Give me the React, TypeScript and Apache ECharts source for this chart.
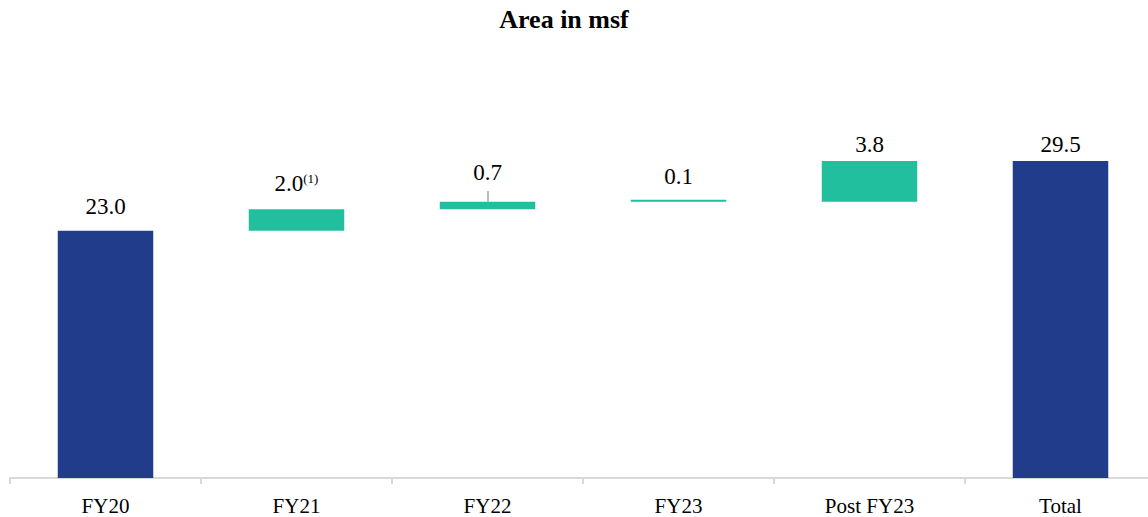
import React, { useEffect, useRef } from "react";
import * as echarts from "echarts";

const categories = ["FY20", "FY21", "FY22", "FY23", "Post FY23", "Total"];
const values = [23.0, 2.0, 0.7, 0.1, 3.8, 29.5];
const bases = [0, 23.0, 25.0, 25.7, 25.7, 0];
const labelTexts = ["23.0", "2.0{sup|(1)}", "0.7", "0.1", "3.8", "29.5"];
const isTotal = [true, false, false, false, false, true];
const labelGaps = [13, 14, 18, 12, 5, 5];

const NAVY = "#213C8A";
const TEAL = "#22BF9F";
const FONT = "'Liberation Serif', 'Times New Roman', serif";

export default function App() {
  const ref = useRef<HTMLDivElement>(null);
  useEffect(() => {
    if (!ref.current) return;
    const chart = echarts.init(ref.current, undefined, { renderer: "svg" });
    const fy22Top = bases[2] + values[2];
    chart.setOption({
      animation: false,
      backgroundColor: "#ffffff",
      graphic: [
        {
          type: "text",
          x: 564,
          y: 19,
          style: {
            text: "Area in msf",
            fontFamily: FONT,
            fontWeight: "bold",
            fontSize: 26,
            fill: "#000",
            textAlign: "center",
            textVerticalAlign: "middle",
          },
        },
      ],
      grid: { left: 10, top: 48, width: 1146, height: 430, containLabel: false },
      xAxis: {
        type: "category",
        data: categories,
        axisLine: { lineStyle: { color: "#d9d9d9", width: 2 } },
        axisTick: { show: true, length: 6, lineStyle: { color: "#d9d9d9", width: 2 } },
        axisLabel: { fontFamily: FONT, fontSize: 21, color: "#000", margin: 17 },
      },
      yAxis: { type: "value", min: 0, max: 40, show: false, splitLine: { show: false } },
      series: [
        {
          type: "bar",
          stack: "w",
          silent: true,
          barWidth: "50%",
          itemStyle: { color: "transparent" },
          data: bases,
        },
        {
          type: "bar",
          stack: "w",
          barWidth: "50%",
          barMinHeight: 2,
          data: values.map((v, i) => ({
            value: v,
            itemStyle: { color: isTotal[i] ? NAVY : TEAL },
            label: {
              show: true,
              position: "top",
              distance: labelGaps[i],
              formatter: labelTexts[i],
              fontFamily: FONT,
              fontSize: 23,
              color: "#000",
              rich: {
                sup: { fontFamily: FONT, fontSize: 13, color: "#000", verticalAlign: "top", padding: [0, 0, 8, 0] },
              },
            },
          })),
          markLine: {
            silent: true,
            symbol: "none",
            label: { show: false },
            lineStyle: { color: "#a6a6a6", width: 1.5, type: "solid" },
            data: [[{ coord: [categories[2], fy22Top] }, { coord: [categories[2], fy22Top + 1] }]],
          },
        },
      ],
    });
    return () => chart.dispose();
  }, []);
  return (
    <div style={{ position: "absolute", left: 0, top: 0, width: 1148, height: 517, overflow: "hidden" }}>
      <div ref={ref} style={{ width: 1160, height: 517 }} />
    </div>
  );
}
